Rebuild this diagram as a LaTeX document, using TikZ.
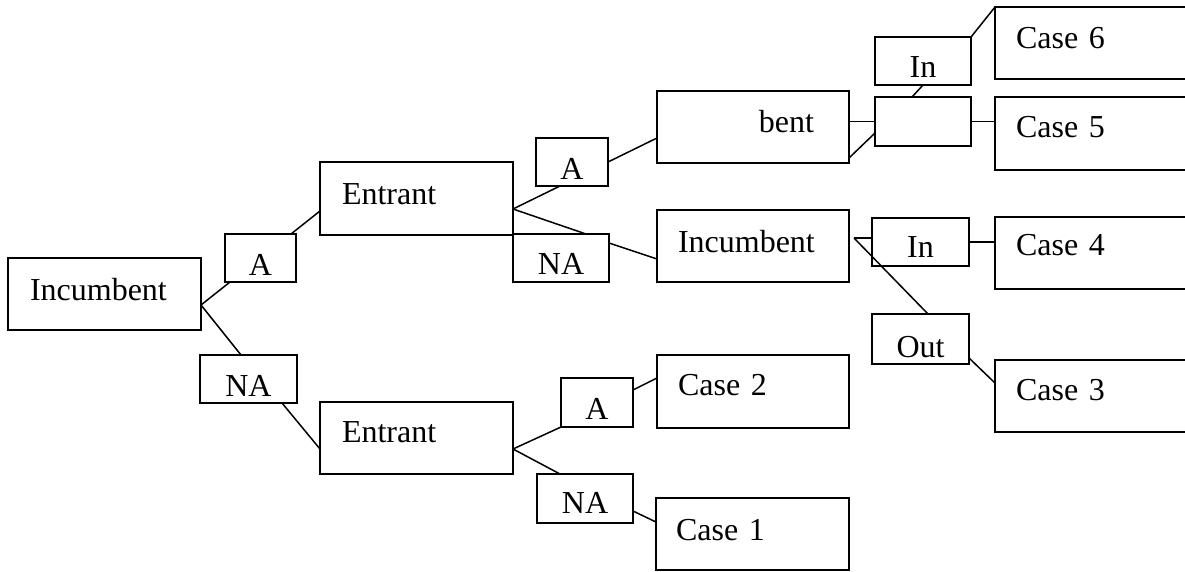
\documentclass[tikz,border=0pt]{standalone}
\usepackage{fontspec}
\usetikzlibrary{calc}
\newfontfamily\tnr[WordSpace=0.7]{Liberation Serif}
\tikzset{
  box/.style={draw, line width=1.6pt, anchor=north west, inner ysep=0pt, outer sep=0pt,
    font=\tnr\fontsize{32}{36}\selectfont},
  casebox/.style={box, align=left},
  tag/.style={box, inner xsep=0pt},
  link/.style={line width=1.5pt},
}

\begin{document}
\begin{tikzpicture}[x=1pt,y=-1pt]
  % --- canvas ---
  \clip (0,0) rectangle (1185,571);
  \fill[white] (0,0) rectangle (1185,571);

  % --- first move: incumbent ---
  \node[casebox, inner xsep=22pt, text width=149pt, text height=42pt, text depth=30pt] (inc1) at (8,258) {Incumbent};
  \node[tag, minimum width=71pt, text height=41pt, text depth=7pt] (a1) at (225,234) {A};
  \node[tag, minimum width=97pt, text height=41pt, text depth=7pt] (na1) at (200,355) {NA};

  % --- entrant after A ---
  \node[casebox, inner xsep=22pt, text width=149pt, text height=42pt, text depth=31pt] (ent1) at (320,162) {Entrant};
  \node[tag, minimum width=72pt, text height=41pt, text depth=7pt] (a2) at (536,138) {A};
  \node[tag, minimum width=96pt, text height=40pt, text depth=8pt] (na2) at (513,234) {NA};

  % --- entrant after NA ---
  \node[casebox, inner xsep=22pt, text width=149pt, text height=40pt, text depth=32pt] (ent2) at (320,402) {Entrant};
  \node[tag, minimum width=72pt, text height=41pt, text depth=8pt] (a3) at (561,378) {A};
  \node[tag, minimum width=96pt, text height=39pt, text depth=10pt] (na3) at (537,474) {NA};

  % --- second incumbent moves ---
  \node[casebox, align=right, inner xsep=35pt, text width=122pt, text height=41pt, text depth=31pt] (bent) at (657,91) {bent};
  \node[box, inner sep=0pt, minimum width=96pt, minimum height=49pt] (emp) at (875,97) {};
  \node[tag, minimum width=96pt, text height=40pt, text depth=8pt] (in1) at (875,37) {In};

  \node[casebox, inner xsep=21pt, text width=150pt, text height=42pt, text depth=30pt] (inc2) at (657,210) {Incumbent};
  \node[tag, minimum width=97pt, text height=39pt, text depth=9pt] (in2) at (872,218) {In};
  \node[tag, minimum width=97pt, text height=43pt, text depth=7pt] (out) at (872,314) {Out};

  % --- outcomes ---
  \node[casebox, inner xsep=21pt, text width=163pt, text height=41pt, text depth=31pt] (case6) at (995,7) {Case 6};
  \node[casebox, inner xsep=21pt, text width=163pt, text height=40pt, text depth=33pt] (case5) at (995,97) {Case 5};
  \node[casebox, inner xsep=21pt, text width=163pt, text height=38pt, text depth=34pt] (case4) at (995,217) {Case 4};
  \node[casebox, inner xsep=21pt, text width=163pt, text height=40pt, text depth=32pt] (case3) at (995,360) {Case 3};
  \node[casebox, inner xsep=21pt, text width=150pt, text height=40pt, text depth=33pt] (case2) at (657,355) {Case 2};
  \node[casebox, inner xsep=20pt, text width=153pt, text height=42pt, text depth=30pt] (case1) at (656,498) {Case 1};

  % --- branches ---
  \draw[link] ([yshift=-11pt]inc1.east) -- ([xshift=5pt]a1.south west);
  \draw[link] ([yshift=-11pt]inc1.east) -- ([xshift=41pt]na1.north west);
  \draw[link] ([xshift=-5pt]a1.north east) -- ([yshift=-12.5pt]ent1.west);
  \draw[link] ([xshift=-15pt]na1.south east) -- ([yshift=-11pt]ent2.west);

  \draw[link] ([yshift=-10.5pt]ent1.east) -- ([xshift=24pt]a2.south west);
  \draw[link] ([yshift=-10.5pt]ent1.east) -- ([xshift=73pt]na2.north west);
  \draw[link] (a2.east) -- ([yshift=-11pt]bent.west);
  \draw[link] ([yshift=15pt]na2.east) -- ([yshift=-13pt]inc2.west);

  \draw[link] ([yshift=-11pt]ent2.east) -- (a3.south west);
  \draw[link] ([yshift=-11pt]ent2.east) -- ([xshift=23pt]na3.north west);
  \draw[link] ([yshift=12.5pt]a3.east) -- ([yshift=13.5pt]case2.west);
  \draw[link] ([yshift=-12.5pt]na3.east) -- ([yshift=12pt]case1.west);

  \draw[link] (bent.east |- emp.west) -- (emp.west);
  \draw[link] ([yshift=5pt]bent.south east) -- ([yshift=-11.5pt]emp.west);
  \draw[link] ([xshift=-11pt]emp.north) -- (in1.south);
  \draw[link] (in1.north east) -- (case6.north west);
  \draw[link] (emp.east) -- (emp.east -| case5.west);

  \coordinate (fork) at ([xshift=5pt,yshift=8pt]inc2.east);
  \draw[link] (fork) -- (fork -| in2.west);
  \draw[link] (fork) -- ([xshift=56pt]out.north west);
  \draw[link] (in2.east) -- (in2.east -| case4.west);
  \draw[link] ([yshift=-19pt]out.east) -- ([yshift=13pt]case3.west);

\end{tikzpicture}
\end{document}
